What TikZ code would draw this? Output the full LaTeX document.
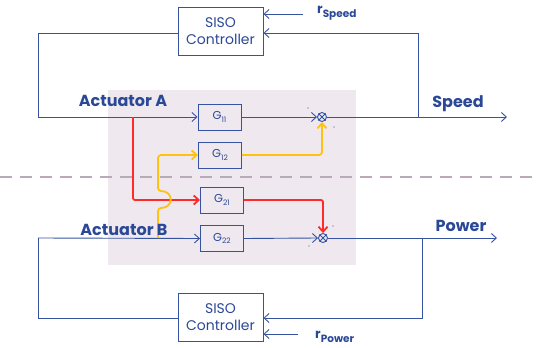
\documentclass[tikz,border=0pt]{standalone}
\usepackage{fontspec}
\setmainfont{Poppins}
\usetikzlibrary{arrows.meta,calc}
\definecolor{bl}{HTML}{3553A0}
\definecolor{tx}{HTML}{2A4896}
\definecolor{shadecol}{HTML}{EFE8EF}
\definecolor{dashcol}{HTML}{B9A9B9}
\definecolor{rd}{HTML}{FF2B2B}
\definecolor{yl}{HTML}{FFC20E}
\newcommand{\gsub}[1]{\raisebox{-2.2pt}{\fontsize{7.5}{8}\selectfont #1}}
\newcommand{\rsub}[1]{\raisebox{-3.5pt}{\fontsize{10.5}{12}\selectfont #1}}
\begin{document}
\begin{tikzpicture}[x=1pt,y=-1pt,
  ln/.style={draw=bl,line width=0.9pt},
  arr/.style={ln,-{Straight Barb[length=5pt,width=9pt,line width=0.9pt]}},
  carr/.style={line width=1.8pt,-{Straight Barb[length=5pt,width=9pt,line width=1.8pt]}},
  ctrl/.style={draw=bl,line width=0.9pt,minimum width=85pt,minimum height=48pt,align=center,text=tx,font=\fontsize{14}{17}\selectfont,inner sep=0pt},
  gbox/.style={draw=bl,line width=0.9pt,minimum width=43pt,minimum height=26pt,text=tx,font=\fontsize{11.5}{12}\selectfont,inner sep=0pt},
  sumj/.style={draw=bl,line width=0.9pt,circle,minimum size=9pt,inner sep=0pt},
  lbl/.style={text=tx,font=\bfseries\fontsize{16}{18}\selectfont,inner sep=0pt},
  rlbl/.style={text=tx,font=\bfseries\fontsize{13}{15}\selectfont,inner sep=0pt},
  sgn/.style={fill=bl,circle,inner sep=0pt,minimum size=1.2pt}]
\useasboundingbox (0,0) rectangle (539,348);
\fill[shadecol] (108,90) rectangle (356,265);
\draw[dashcol,line width=1.2pt,dash pattern=on 12pt off 8pt] (0,177) -- (539,177);

% nodes
\node[ctrl] (ca) at (220.5,31) {SISO\\Controller};
\node[ctrl] (cb) at (220.5,317.5) {SISO\\Controller};
\node[gbox] (g11) at (219.5,117) {G\gsub{11}};
\node[gbox] (g12) at (220,155) {G\gsub{12}};
\node[gbox] (g21) at (222,200) {G\gsub{21}};
\node[gbox] (g22) at (222,238.5) {G\gsub{22}};
\node[sumj] (sa) at (322,117) {};
\node[sumj] (sb) at (323,238) {};
\draw[bl,line width=0.9pt] (sa.north west) -- (sa.south east) (sa.north east) -- (sa.south west);
\draw[bl,line width=0.9pt] (sb.north west) -- (sb.south east) (sb.north east) -- (sb.south west);
\node[sgn] at (308,108) {};
\node[sgn] at (334,127) {};
\node[sgn] at (333,226) {};
\node[sgn] at (309,246) {};

% coordinates
\coordinate (ltA) at (38,117);
\coordinate (ltB) at (38,238);
\coordinate (fbA) at (418,117);
\coordinate (fbB) at (422,238);
\coordinate (outA) at (507,117);
\coordinate (outB) at (497,238);
\coordinate (rs) at (303,14);
\coordinate (rp) at (298,334);
\coordinate (redS) at (133,117);
\coordinate (ylS) at (158,238);

% top loop
\draw[arr] (rs) -- (rs -| ca.east);
\draw[arr] (fbA) |- ($(ca.east)+(0,2)$);
\draw[ln] ($(ca.west)+(0,2)$) -| (ltA);
\draw[arr] (ltA) -- (g11.west);
\draw[arr] (g11.east) -- (sa.west);
\draw[arr] (sa.east) -- (outA);

% bottom loop
\draw[arr] (rp) -- (rp -| cb.east);
\draw[arr] (fbB) |- ($(cb.east)+(0,0.5)$);
\draw[ln] ($(cb.west)+(0,0.5)$) -| (ltB);
\draw[arr] (ltB) -- (g22.west);
\draw[arr] (g22.east) -- (sb.west);
\draw[arr] (sb.east) -- (outB);

% cross couplings
\draw[rd,carr,rounded corners=2pt] (redS) |- (g21.west);
\draw[rd,carr,rounded corners=2pt] (g21.east) -| (sb.north);
\draw[yl,carr,rounded corners=3pt] (ylS) -- (158,208) .. controls (174,208) and (174,191) .. (158,191) -- (158,155) -- (g12.west);
\draw[yl,carr,rounded corners=3pt] (g12.east) -| (sa.south);

% labels
\node[lbl] (la) at (123,101) {Actuator A};
\node[lbl] (lb) at (124,230) {Actuator B};
\node[lbl] (sp) at (458,104) {Speed};
\node[lbl] (pw) at (461,226) {Power};
\node[rlbl,anchor=west] (rsl) at (317,13) {r\rsub{Speed}};
\node[rlbl,anchor=west] (rpl) at (315,337) {r\rsub{Power}};
\end{tikzpicture}
\end{document}
